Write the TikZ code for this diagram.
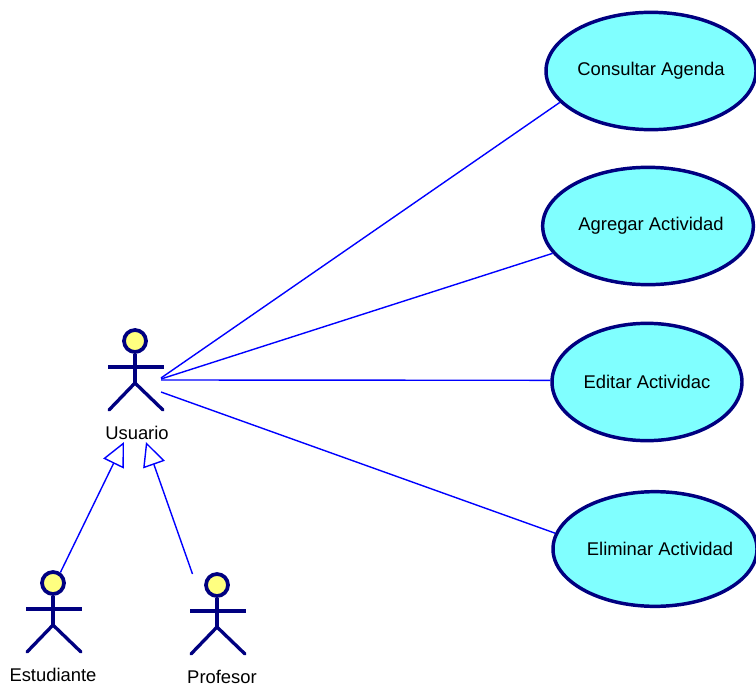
\documentclass[tikz,border=0pt]{standalone}
\usepackage{fontspec}
\setmainfont{Liberation Sans}
\usetikzlibrary{arrows.meta,shapes.geometric}
\definecolor{navyline}{RGB}{0,0,128}
\definecolor{caselfill}{RGB}{128,255,255}
\definecolor{headfill}{RGB}{255,255,128}
\definecolor{linkblue}{RGB}{0,0,255}
\newcommand{\caselabel}[2][0pt]{\raisebox{-0.9pt}{\makebox[100pt][c]{\hspace*{#1}#2}}}
\tikzset{
  actor/.pic={
    \node[circle,draw=navyline,fill=headfill,line width=2.8pt,minimum size=16.5pt,inner sep=0pt] (-head) at (0,0) {};
    \draw[navyline,line width=2.5pt] (-head.south) -- (0,42);
    \draw[navyline,line width=2.5pt] (-27,26) -- (29,26);
    \draw[navyline,line width=2.5pt,line cap=round] (-26,69) -- (0,42) -- (28,69);
  }
}
\begin{document}
\begin{tikzpicture}[x=0.75pt,y=-0.75pt,
    usecase/.style={ellipse,draw=navyline,fill=caselfill,line width=2.6pt,inner sep=0pt,font=\fontsize{13.8pt}{15pt}\selectfont},
    actorlabel/.style={font=\fontsize{13.8pt}{15pt}\selectfont,inner sep=0pt},
    assoc/.style={draw=linkblue,line width=1.05pt},
    generalize/.style={draw=linkblue,line width=1.05pt,-{Triangle[open,length=18pt,width=17pt,fill=white]}}]
\useasboundingbox (0,0) rectangle (756,688);
% use cases
\node[usecase,minimum width=157.5pt,minimum height=88pt] (consultar) at (651,71) {\caselabel{Consultar Agenda}};
\node[usecase,minimum width=158pt,minimum height=88pt] (agregar) at (648,226) {\caselabel[4.5pt]{Agregar Actividad}};
\node[usecase,minimum width=142.5pt,minimum height=88pt] (editar) at (647,382) {\caselabel{Editar Actividac}};
\node[usecase,minimum width=153pt,minimum height=86pt] (eliminar) at (655,549) {\caselabel[7.5pt]{Eliminar Actividad}};
% actors
\pic (usr) at (135,341) {actor};
\pic (est) at (53,583) {actor};
\pic (prof) at (217,585) {actor};
\node[actorlabel] (usrlabel) at (137,433) {Usuario};
\node[actorlabel] (estlabel) at (53,675) {Estudiante};
\node[actorlabel] (proflabel) at (222,677) {Profesor};
% free ends
\coordinate (usrA) at (161,378);
\coordinate (usrB) at (161,379);
\coordinate (usrC) at (161,380);
\coordinate (usrD) at (161,392);
\coordinate (usrtipA) at (124,442);
\coordinate (usrtipB) at (146,442);
\coordinate (proffoot) at (192.5,574);
% links
\draw[assoc] (usrA) -- (consultar.199);
\draw[assoc] (usrB) -- (agregar.196);
\draw[assoc] (usrC) -- (editar.179);
\draw[assoc] (usrD) -- (eliminar.171);
\draw[generalize] (est-head.55) -- (usrtipA);
\draw[generalize] (proffoot) -- (usrtipB);
\end{tikzpicture}
\end{document}
